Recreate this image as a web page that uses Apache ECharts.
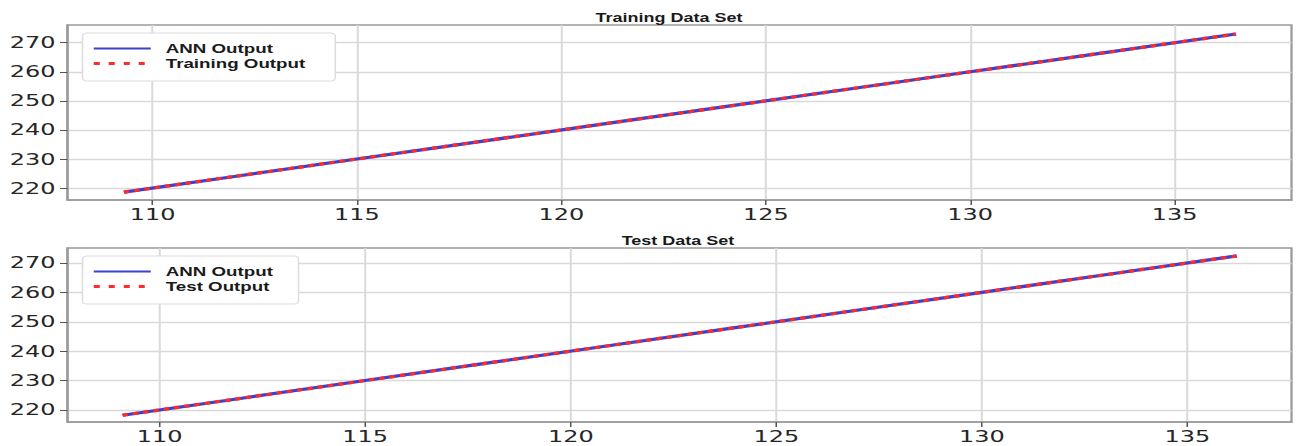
<!DOCTYPE html>
<html>
<head>
<meta charset="utf-8">
<script src="https://cdn.jsdelivr.net/npm/echarts@6/dist/echarts.min.js"></script>
<style>
  html, body { margin: 0; padding: 0; background: #fff; overflow: hidden; }
  #wrap { width: 1296px; height: 446px; overflow: hidden; }
  /* the figure is laid out at 864px and stretched horizontally to 1296px */
  #chart { width: 864px; height: 446px; transform: scaleX(1.5); transform-origin: 0 0; }
</style>
</head>
<body>
<div id="wrap"><div id="chart"></div></div>
<script>
// Training set: input vs. network output and target output
const trainX      = [109.3, 112.0, 115.0, 118.0, 121.0, 124.0, 127.0, 130.0, 133.0, 136.5];
const trainAnn    = [218.6, 224.0, 230.0, 236.0, 242.0, 248.0, 254.0, 260.0, 266.0, 273.0];
const trainTarget = [218.6, 224.0, 230.0, 236.0, 242.0, 248.0, 254.0, 260.0, 266.0, 273.0];

// Test set
const testX      = [109.1, 112.0, 115.0, 118.0, 121.0, 124.0, 127.0, 130.0, 133.0, 136.2];
const testAnn    = [218.2, 224.0, 230.0, 236.0, 242.0, 248.0, 254.0, 260.0, 266.0, 272.4];
const testTarget = [218.2, 224.0, 230.0, 236.0, 242.0, 248.0, 254.0, 260.0, 266.0, 272.4];

const xTicks = [110, 115, 120, 125, 130, 135];
const yTicks = [220, 230, 240, 250, 260, 270];

const titles = ['Training Data Set', 'Test Data Set'];
const annName = 'ANN Output';
const targetNames = ['Training Output', 'Test Output'];

const pair = (xs, ys) => xs.map((x, i) => [x, ys[i]]);

const tickFont = { fontFamily: 'DejaVu Sans', fontSize: 16, color: '#262626' };
const frameColor = '#9a9a9a';
const gridColor = '#d9d9d9';

function xAxis(gridIndex, min, max) {
  return {
    type: 'value', gridIndex, min, max,
    axisLine: { show: true, lineStyle: { color: frameColor, width: 1.5 } },
    axisTick: { show: true, length: 5, customValues: xTicks, lineStyle: { color: '#555' } },
    axisLabel: Object.assign({ margin: 7, customValues: xTicks }, tickFont),
    splitLine: { show: true, lineStyle: { color: gridColor, width: 1.3 } }
  };
}
function yAxis(gridIndex, min, max) {
  return {
    type: 'value', gridIndex, min, max,
    axisLine: { show: true, lineStyle: { color: frameColor, width: 1.5 } },
    axisTick: { show: true, length: 5, customValues: yTicks, lineStyle: { color: '#555' } },
    axisLabel: Object.assign({ margin: 8, customValues: yTicks }, tickFont),
    splitLine: { show: true, lineStyle: { color: gridColor, width: 1.3 } }
  };
}

const annStyle = { color: '#3f3fcf', width: 3.2, type: 'solid' };
const targetStyle = { color: '#ff2a2a', width: 3.2, type: [3.5, 3.5] };

function lineSeries(name, idx, data, style, z) {
  return {
    type: 'line', name, xAxisIndex: idx, yAxisIndex: idx, data,
    showSymbol: false, symbol: 'none', animation: false, z,
    lineStyle: style, itemStyle: { color: style.color }
  };
}

function legend(top, names, padRight) {
  return {
    orient: 'vertical', left: 55, top,
    data: [
      { name: names[0] },
      { name: names[1], lineStyle: { type: [4, 6], width: 3 } }
    ],
    itemWidth: 38, itemHeight: 10, itemGap: 2,
    padding: [9, padRight, 11, 6],
    backgroundColor: '#fff', borderColor: '#dcdcdc', borderWidth: 1, borderRadius: 3,
    selectedMode: false,
    itemStyle: { opacity: 0, borderWidth: 0 },
    textStyle: { fontFamily: 'Liberation Sans', fontWeight: 'bold', fontSize: 12.5, lineHeight: 13,
                 color: '#1a1a1a', padding: [0, 0, 0, 5] }
  };
}

const titleFont = { fontFamily: 'Liberation Sans', fontWeight: 'bold', fontSize: 12, color: '#1a1a1a' };

const chart = echarts.init(document.getElementById('chart'), null, { renderer: 'svg' });
chart.setOption({
  backgroundColor: '#fff',
  animation: false,
  title: [
    { text: titles[0], left: 441, top: 7, textAlign: 'center', textStyle: titleFont },
    { text: titles[1], left: 447, top: 230, textAlign: 'center', textStyle: titleFont }
  ],
  grid: [
    { left: 45, right: 3, top: 25, bottom: 246, show: true, borderColor: frameColor, borderWidth: 1.5 },
    { left: 45, right: 3, top: 248, bottom: 24, show: true, borderColor: frameColor, borderWidth: 1.5 }
  ],
  xAxis: [xAxis(0, 107.92, 137.86), xAxis(1, 107.76, 137.53)],
  yAxis: [yAxis(0, 215.9, 276.1), yAxis(1, 215.9, 275.1)],
  legend: [
    legend(33, [annName, targetNames[0]], 20),
    legend(256, [annName, targetNames[1]], 17)
  ],
  series: [
    lineSeries(annName, 0, pair(trainX, trainAnn), annStyle, 2),
    lineSeries(targetNames[0], 0, pair(trainX, trainTarget), targetStyle, 3),
    lineSeries(annName, 1, pair(testX, testAnn), annStyle, 2),
    lineSeries(targetNames[1], 1, pair(testX, testTarget), targetStyle, 3)
  ]
});
</script>
</body>
</html>
